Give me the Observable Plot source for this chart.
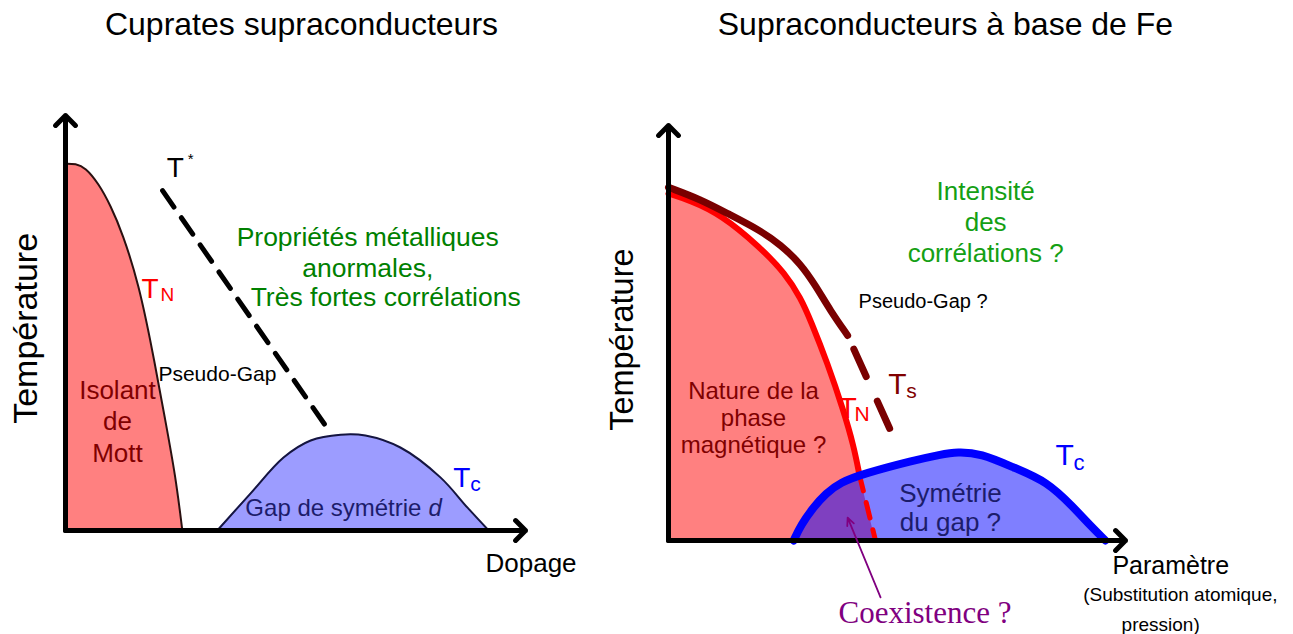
<!DOCTYPE html>
<html><head><meta charset="utf-8">
<script src="https://cdn.jsdelivr.net/npm/d3@7"></script>
<script src="https://cdn.jsdelivr.net/npm/@observablehq/plot@0.6"></script>
<style>
body{margin:0;background:#fff;}
#wrap{position:relative;width:1293px;height:634px;overflow:hidden;background:#fff;}
#wrap svg{position:absolute;left:0;top:0;}
</style></head><body><div id="wrap"></div>
<script>
// ---------- Left panel: cuprates (schematic units: doping 0-100, temperature 0-100)
const cuprateTN = [[0,88.4],[2.2,88.4],[4.3,87.5],[7.2,83.6],[9.8,78.3],[12.4,71.6],[15.9,59.5],[18.9,43.4],[21.7,26.5],[23.9,13.3],[25.4,0]];
const cuprateTc = [[33.0,0],[40.2,8.9],[47.4,17.6],[53.3,21.7],[59.8,23.1],[65.2,22.9],[72.8,20.0],[81.5,12.8],[87.4,5.5],[92.0,0]];
const cuprateTstar = [[21.1,81.9],[56.5,25.3]];
const cuprateAxes = [{x1:0,y1:0,x2:0,y2:100},{x1:0,y1:0,x2:100,y2:0}];

// ---------- Right panel: iron-based (schematic units)
const feTs = [[0,85.1],[7.0,82.2],[12.9,78.8],[20.1,74.7],[24.5,71.3],[28.9,66.7],[32.2,61.4],[35.4,55.4],[39.2,49.4]];
const feTsDashed = [[39.2,49.4],[48.6,26.5]];
const feTN = [[0,83.6],[4.8,81.9],[11.4,78.6],[20.1,70.6],[25.5,64.4],[29.0,58.3],[31.1,53.0],[34.8,42.7],[38.3,31.3],[40.5,22.9],[41.8,15.7]];
const feTNDashed = [[41.8,15.7],[45.3,0]];
const feTc = [[27.4,0],[28.9,3.6],[31.7,8.0],[34.4,11.3],[37.6,14.0],[42.7,16.1],[53.6,19.3],[59.5,20.7],[63.2,21.4],[68.3,21.0],[75.5,17.6],[82.9,14.2],[88.6,8.0],[92.3,3.6],[95.6,0]];
const feAxes = [{x1:0,y1:0,x2:0,y2:100},{x1:0,y1:0,x2:100,y2:0}];
const feCoexArrow = [{x1:46.4,y1:-13.7,x2:39.2,y2:5.5}];

// ---------- Labels (text + anchor point in data units)
const leftTitle = [{t:"Cuprates supraconducteurs", x:51.3, y:119.3}];
const leftYLabel = [{t:"Température", x:-6.3, y:48.7}];
const leftXLabel = [{t:"Dopage", x:91.3, y:-10.1}];
const leftTstar = [{t:"T", s:"*", x:22.0, y:85.3}];
const leftTN = [{t:"T", s:"N", x:16.5, y:56.1}];
const leftTc = [{t:"T", s:"c", x:84.3, y:10.4}];
const leftPseudo = [{t:"Pseudo-Gap", x:20.2, y:36.1}];
const leftMott = [{t:"Isolant\nde\nMott", x:11.3, y:16.6}];
const leftGreen = [{t:"Propriétés métalliques\nanormales,", x:65.7, y:61.2}];
const leftGreen2 = [{t:"Très fortes corrélations", x:69.6, y:54.0}];
const leftGap = [{t:"Gap de symétrie", d:"d", x:39.1, xd:78.9, y:3.6}];

const rightTitle = [{t:"Supraconducteurs à base de Fe", x:60.6, y:121.7}];
const rightYLabel = [{t:"Température", x:-7.7, y:48.4}];
const rightXLabel = [{t:"Paramètre", x:109.9, y:-8.0}];
const rightXSub1 = [{t:"(Substitution atomique,", x:112.0, y:-14.5}];
const rightXSub2 = [{t:"pression)", x:107.7, y:-21.7}];
const rightGreen = [{t:"Intensité\ndes\ncorrélations ?", x:69.4, y:67.2}];
const rightPseudo = [{t:"Pseudo-Gap ?", x:41.6, y:56.1}];
const rightNature = [{t:"Nature de la\nphase\nmagnétique ?", x:18.6, y:21.2}];
const rightTN = [{t:"T", s:"N", x:37.2, y:29.6}];
const rightTs = [{t:"T", s:"s", x:48.1, y:35.4}];
const rightTc = [{t:"T", s:"c", x:84.7, y:18.1}];
const rightSym = [{t:"Symétrie\ndu gap ?", x:61.7, y:2.4}];
const rightCoex = [{t:"Coexistence ?", x:37.2, y:-19.8}];

const SANS = "'Liberation Sans', Arial, Helvetica, sans-serif";
const SERIF = "'Liberation Serif', 'DejaVu Serif', serif";
const W = 1293, H = 634;

function txt(data, o) {
  return Plot.text(data, {x: "x", y: "y", text: "t", fontFamily: SANS, lineAnchor: "bottom", ...o});
}
function sub(data, o) {
  return Plot.text(data, {x: "x", y: "y", text: "s", fontFamily: SANS, lineAnchor: "bottom", textAnchor: "start", ...o});
}
const X = d => d[0], Y = d => d[1];

const left = Plot.plot({
  width: W, height: H,
  marginLeft: 65, marginRight: W - 525, marginTop: 115, marginBottom: H - 530,
  x: {domain: [0, 100], axis: null},
  y: {domain: [0, 100], axis: null},
  style: {background: "none", overflow: "visible"},
  marks: [
    Plot.areaY(cuprateTN, {x: X, y: Y, fill: "#ff8080", curve: "basis"}),
    Plot.line(cuprateTN, {x: X, y: Y, stroke: "#2a1010", strokeWidth: 2, curve: "basis"}),
    Plot.areaY(cuprateTc, {x: X, y: Y, fill: "#9c9cff", curve: "catmull-rom"}),
    Plot.line(cuprateTc, {x: X, y: Y, stroke: "#151540", strokeWidth: 2, curve: "catmull-rom"}),
    Plot.line(cuprateTstar, {x: X, y: Y, stroke: "black", strokeWidth: 5, strokeDasharray: "20,13"}),
    Plot.arrow(cuprateAxes, {x1: "x1", y1: "y1", x2: "x2", y2: "y2", stroke: "black", strokeWidth: 5, headLength: 4.2, headAngle: 90}),
    txt(leftTitle, {fontSize: 32, fill: "black"}),
    txt(leftYLabel, {fontSize: 34, fill: "black", rotate: -90}),
    txt(leftXLabel, {fontSize: 26, fill: "black", textAnchor: "start"}),
    txt(leftTstar, {fontSize: 28, fill: "black", textAnchor: "start"}),
    sub(leftTstar, {fontSize: 15, fill: "black", dx: 21, dy: -13}),
    txt(leftTN, {fontSize: 28, fill: "#ff0000", textAnchor: "start"}),
    sub(leftTN, {fontSize: 19, fill: "#ff0000", dx: 19, dy: 3}),
    txt(leftTc, {fontSize: 28, fill: "#0000ff", textAnchor: "start"}),
    sub(leftTc, {fontSize: 21, fill: "#0000ff", dx: 17, dy: 4}),
    txt(leftPseudo, {fontSize: 21, fill: "black", textAnchor: "start"}),
    txt(leftMott, {fontSize: 26, fill: "#800000", lineHeight: 1.21}),
    txt(leftGreen, {fontSize: 26.5, fill: "#008000", lineHeight: 1.17}),
    txt(leftGreen2, {fontSize: 26.5, fill: "#008000"}),
    txt(leftGap, {fontSize: 24, fill: "#1c1c6b", textAnchor: "start"}),
    Plot.text(leftGap, {x: "xd", y: "y", text: "d", fontFamily: SANS, fontStyle: "italic", fontSize: 24, fill: "#1c1c6b", textAnchor: "start", lineAnchor: "bottom"})
  ]
});

const right = Plot.plot({
  width: W, height: H,
  marginLeft: 668, marginRight: W - 1125, marginTop: 125, marginBottom: H - 540,
  x: {domain: [0, 100], axis: null},
  y: {domain: [0, 100], axis: null},
  style: {background: "none", overflow: "visible"},
  marks: [
    Plot.areaY(feTN.concat(feTNDashed.slice(1)), {x: X, y: Y, fill: "#ff8080", curve: "basis"}),
    Plot.areaY(feTc, {x: X, y: Y, fill: "#0000ff", fillOpacity: 0.5, curve: "basis"}),
    Plot.line(feTN, {x: X, y: Y, stroke: "#ff0000", strokeWidth: 6, curve: "basis"}),
    Plot.line(feTNDashed, {x: X, y: Y, stroke: "#ff0000", strokeWidth: 5, strokeDasharray: "16,12"}),
    Plot.line(feTs, {x: X, y: Y, stroke: "#7a0000", strokeWidth: 7, curve: "basis"}),
    Plot.line(feTsDashed, {x: X, y: Y, stroke: "#7a0000", strokeWidth: 7, strokeDasharray: "30,27", strokeDashoffset: 42}),
    Plot.line(feTc, {x: X, y: Y, stroke: "#0000ff", strokeWidth: 8, curve: "basis"}),
    Plot.arrow(feAxes, {x1: "x1", y1: "y1", x2: "x2", y2: "y2", stroke: "black", strokeWidth: 5, headLength: 4.2, headAngle: 90}),
    Plot.arrow(feCoexArrow, {x1: "x1", y1: "y1", x2: "x2", y2: "y2", stroke: "#800080", strokeWidth: 1.8, headLength: 7, headAngle: 50}),
    txt(rightTitle, {fontSize: 32, fill: "black"}),
    txt(rightYLabel, {fontSize: 32.5, fill: "black", rotate: -90}),
    txt(rightXLabel, {fontSize: 25, fill: "black"}),
    txt(rightXSub1, {fontSize: 19, fill: "black"}),
    txt(rightXSub2, {fontSize: 19, fill: "black"}),
    txt(rightGreen, {fontSize: 26, fill: "#14a014", lineHeight: 1.19}),
    txt(rightPseudo, {fontSize: 20, fill: "black", textAnchor: "start"}),
    txt(rightNature, {fontSize: 24, fill: "#800000", lineHeight: 1.125}),
    txt(rightTN, {fontSize: 30, fill: "#ff0000", textAnchor: "start"}),
    sub(rightTN, {fontSize: 21, fill: "#ff0000", dx: 16, dy: 3}),
    txt(rightTs, {fontSize: 30, fill: "#800000", textAnchor: "start"}),
    sub(rightTs, {fontSize: 21, fill: "#800000", dx: 18, dy: 4}),
    txt(rightTc, {fontSize: 30, fill: "#0000ff", textAnchor: "start"}),
    sub(rightTc, {fontSize: 22, fill: "#0000ff", dx: 18, dy: 5}),
    txt(rightSym, {fontSize: 26, fill: "#1c1c6b", lineHeight: 1.08}),
    Plot.text(rightCoex, {x: "x", y: "y", text: "t", fontFamily: SERIF, fontSize: 31, fill: "#800080", textAnchor: "start", lineAnchor: "bottom"})
  ]
});

const wrap = document.getElementById("wrap");
wrap.appendChild(left);
wrap.appendChild(right);
</script>
</body></html>
